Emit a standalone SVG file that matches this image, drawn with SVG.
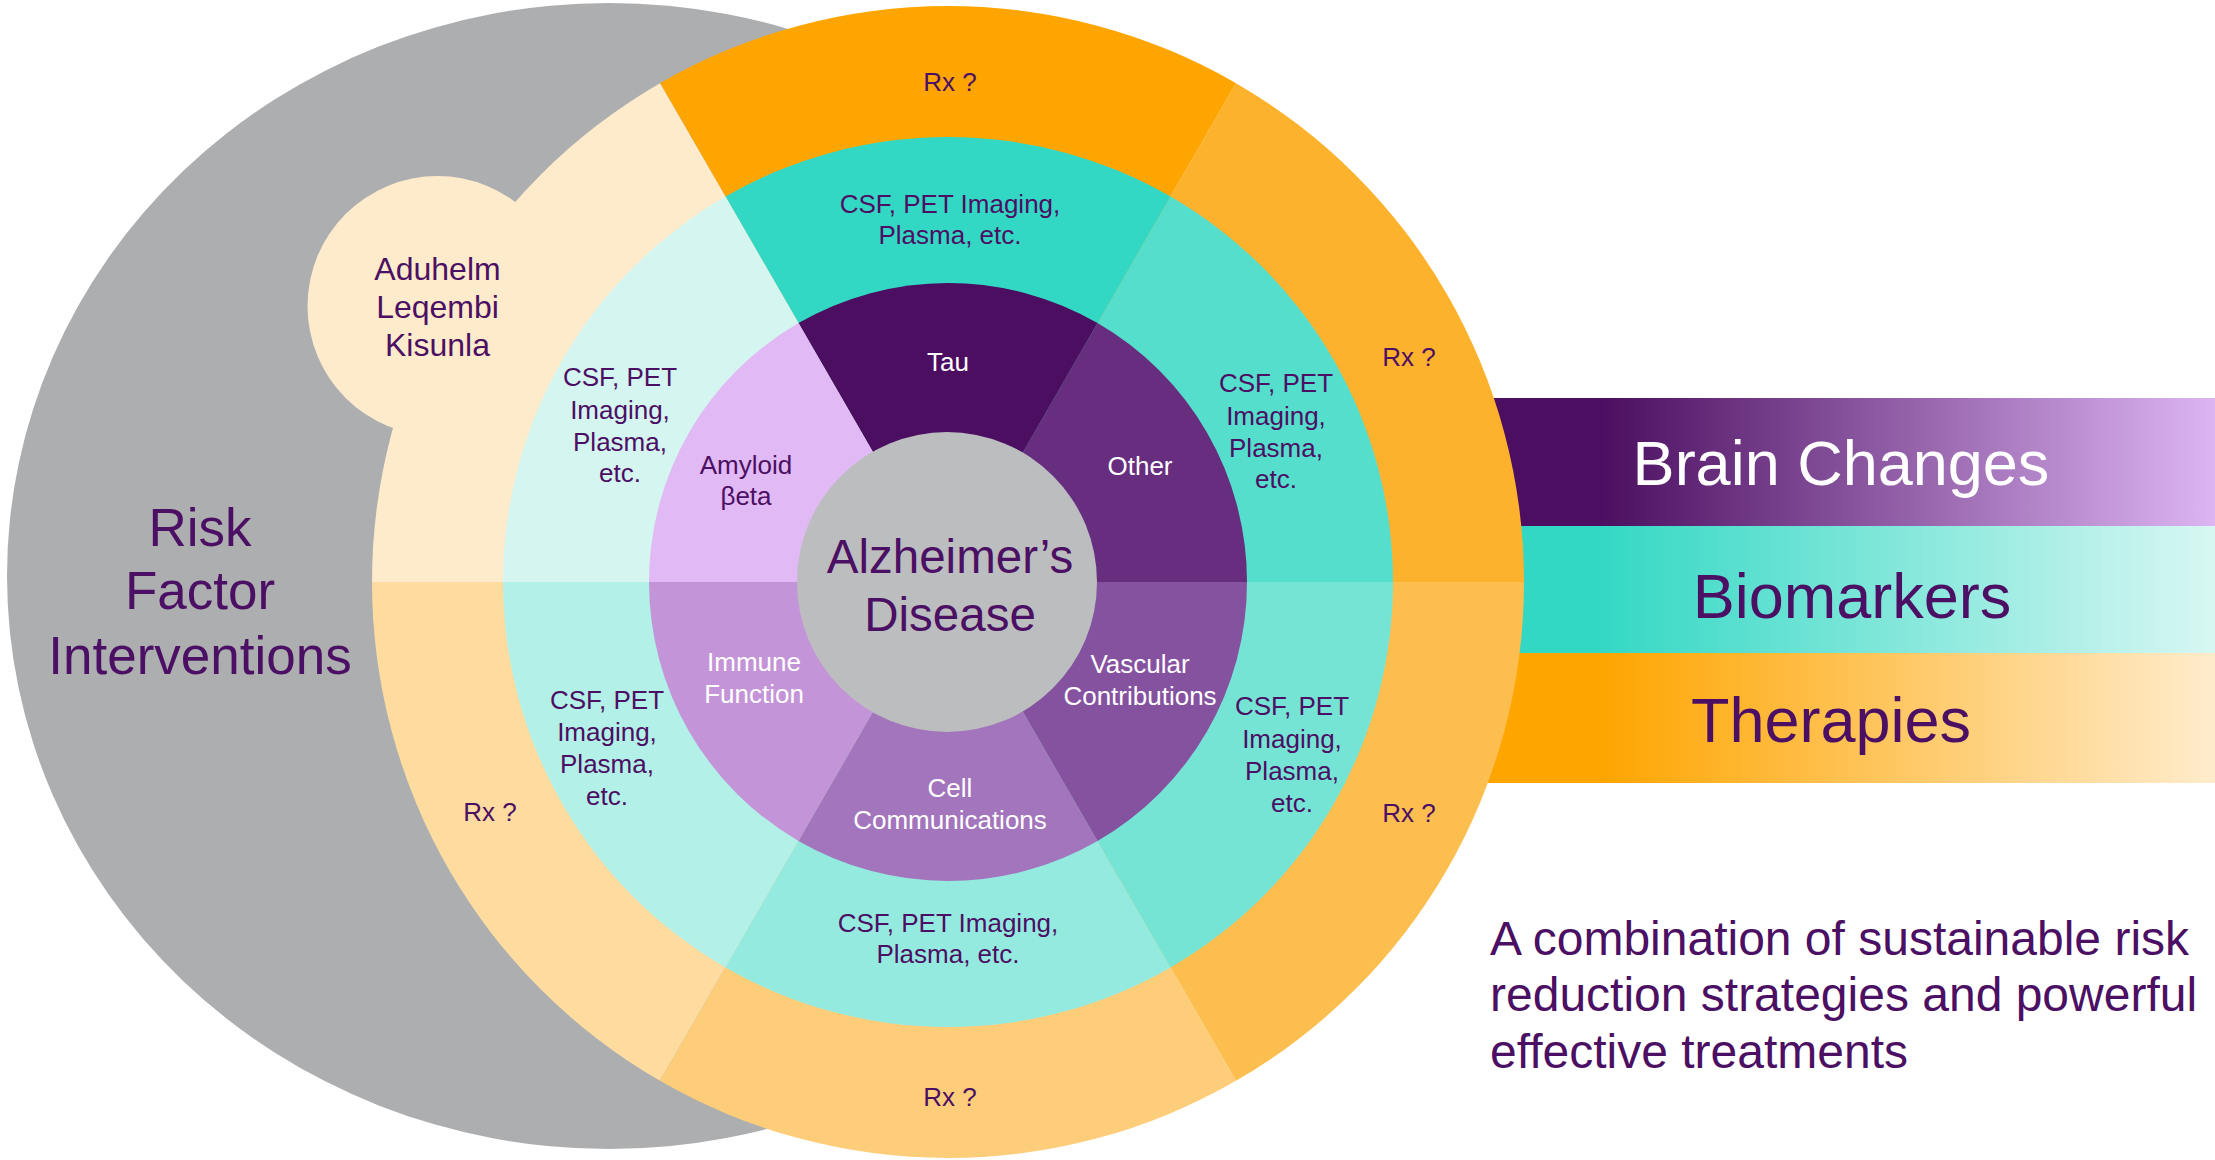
<svg xmlns="http://www.w3.org/2000/svg" width="2215" height="1160" viewBox="0 0 2215 1160">
<style>
text{font-family:"Liberation Sans",Arial,sans-serif;text-anchor:middle}
.s{font-size:26px}
.p{fill:#4B0F63}
.w{fill:#FFFFFF}
.big{font-size:53px}
.mid{font-size:47.5px}
.band{font-size:63px}
</style>
<defs>
<linearGradient id="gBrain" gradientUnits="userSpaceOnUse" x1="1600" y1="0" x2="2215" y2="0">
<stop offset="0" stop-color="#4B0E60"/><stop offset="1" stop-color="#DDB5F3"/>
</linearGradient>
<linearGradient id="gBio" gradientUnits="userSpaceOnUse" x1="1597" y1="0" x2="2215" y2="0">
<stop offset="0" stop-color="#33D8C4"/><stop offset="1" stop-color="#D8F7F3"/>
</linearGradient>
<linearGradient id="gTher" gradientUnits="userSpaceOnUse" x1="1600" y1="0" x2="2215" y2="0">
<stop offset="0" stop-color="#FEA500"/><stop offset="1" stop-color="#FFECCC"/>
</linearGradient>
</defs>
<rect width="2215" height="1160" fill="#FFFFFF"/>

<g id="bands">
<g id="band-brain"><rect x="1300" y="398" width="915" height="128" fill="url(#gBrain)"/></g>
<g id="band-bio"><rect x="1300" y="526" width="915" height="127" fill="url(#gBio)"/></g>
<g id="band-ther"><rect x="1300" y="653" width="915" height="130" fill="url(#gTher)"/></g>
</g>

<g id="risk-factor">
<ellipse cx="609" cy="576" rx="602" ry="573" fill="#ADAEB0"/>
</g>

<g id="approved-drugs">
<circle cx="437.5" cy="306" r="130" fill="#FEEBCB"/>
</g>

<g id="therapy-ring">
<path d="M948 582 L1524 582 A576 576 0 0 0 1236 83.17 Z" fill="#FDB22D"/>
<path d="M948 582 L1236 83.17 A576 576 0 0 0 660 83.17 Z" fill="#FEA502"/>
<path d="M948 582 L660 83.17 A576 576 0 0 0 372 582 Z" fill="#FEEBCB"/>
<path d="M948 582 L372 582 A576 576 0 0 0 660 1080.83 Z" fill="#FEDCA0"/>
<path d="M948 582 L660 1080.83 A576 576 0 0 0 1236 1080.83 Z" fill="#FDCD7A"/>
<path d="M948 582 L1236 1080.83 A576 576 0 0 0 1524 582 Z" fill="#FDBE50"/>
</g>

<g id="biomarker-ring">
<path d="M948 582 L1393 582 A445 445 0 0 0 1170.5 196.62 Z" fill="#55DECB"/>
<path d="M948 582 L1170.5 196.62 A445 445 0 0 0 725.5 196.62 Z" fill="#33D8C4"/>
<path d="M948 582 L725.5 196.62 A445 445 0 0 0 503 582 Z" fill="#D5F5F1"/>
<path d="M948 582 L503 582 A445 445 0 0 0 725.5 967.38 Z" fill="#B3F0E7"/>
<path d="M948 582 L725.5 967.38 A445 445 0 0 0 1170.5 967.38 Z" fill="#95EADF"/>
<path d="M948 582 L1170.5 967.38 A445 445 0 0 0 1393 582 Z" fill="#75E4D5"/>
</g>

<g id="brain-ring">
<path d="M948 582 L1247 582 A299 299 0 0 0 1097.5 323.06 Z" fill="#672E80"/>
<path d="M948 582 L1097.5 323.06 A299 299 0 0 0 798.5 323.06 Z" fill="#4B0E60"/>
<path d="M948 582 L798.5 323.06 A299 299 0 0 0 649 582 Z" fill="#E1B9F4"/>
<path d="M948 582 L649 582 A299 299 0 0 0 798.5 840.94 Z" fill="#C394D7"/>
<path d="M948 582 L798.5 840.94 A299 299 0 0 0 1097.5 840.94 Z" fill="#A375BC"/>
<path d="M948 582 L1097.5 840.94 A299 299 0 0 0 1247 582 Z" fill="#8552A0"/>
</g>

<g id="center">
<circle cx="947" cy="582" r="150" fill="#BCBDBF"/>
<text class="mid p" x="950" y="573">Alzheimer’s</text>
<text class="mid p" x="950" y="631">Disease</text>
</g>

<g id="labels-risk">
<text class="big p" x="200" y="546">Risk</text>
<text class="big p" x="200" y="609">Factor</text>
<text class="big p" x="200" y="674">Interventions</text>
</g>

<g id="labels-drugs">
<text class="p" style="font-size:32px" x="437.5" y="280">Aduhelm</text>
<text class="p" style="font-size:32px" x="437.5" y="318">Leqembi</text>
<text class="p" style="font-size:32px" x="437.5" y="356">Kisunla</text>
</g>

<g id="labels-therapy">
<text class="s p" x="950" y="91">Rx ?</text>
<text class="s p" x="1409" y="366">Rx ?</text>
<text class="s p" x="1409" y="822">Rx ?</text>
<text class="s p" x="950" y="1106">Rx ?</text>
<text class="s p" x="490" y="821">Rx ?</text>
</g>

<g id="labels-biomarker">
<text class="s p" x="950" y="212.5">CSF, PET Imaging,</text>
<text class="s p" x="950" y="244">Plasma, etc.</text>
<text class="s p" x="1276" y="392">CSF, PET</text>
<text class="s p" x="1276" y="424.5">Imaging,</text>
<text class="s p" x="1276" y="456.5">Plasma,</text>
<text class="s p" x="1276" y="487.5">etc.</text>
<text class="s p" x="1292" y="715">CSF, PET</text>
<text class="s p" x="1292" y="748">Imaging,</text>
<text class="s p" x="1292" y="780">Plasma,</text>
<text class="s p" x="1292" y="811.5">etc.</text>
<text class="s p" x="948" y="931.5">CSF, PET Imaging,</text>
<text class="s p" x="948" y="963">Plasma, etc.</text>
<text class="s p" x="607" y="709">CSF, PET</text>
<text class="s p" x="607" y="741">Imaging,</text>
<text class="s p" x="607" y="773">Plasma,</text>
<text class="s p" x="607" y="805">etc.</text>
<text class="s p" x="620" y="386">CSF, PET</text>
<text class="s p" x="620" y="418.5">Imaging,</text>
<text class="s p" x="620" y="450.5">Plasma,</text>
<text class="s p" x="620" y="482">etc.</text>
</g>

<g id="labels-brain">
<text class="s w" x="948" y="370.5">Tau</text>
<text class="s w" x="1140" y="475">Other</text>
<text class="s w" x="1140" y="673">Vascular</text>
<text class="s w" x="1140" y="705">Contributions</text>
<text class="s w" x="950" y="796.5">Cell</text>
<text class="s w" x="950" y="828.5">Communications</text>
<text class="s w" x="754" y="671">Immune</text>
<text class="s w" x="754" y="703">Function</text>
<text class="s p" x="746" y="473.5">Amyloid</text>
<text class="s p" x="746" y="504.5">βeta</text>
</g>

<g id="labels-bands">
<text class="band w" x="1841" y="485">Brain Changes</text>
<text class="band p" x="1852" y="618">Biomarkers</text>
<text class="band p" x="1831" y="742">Therapies</text>
</g>

<g id="summary">
<text class="p" style="font-size:48px;text-anchor:start" x="1490" y="955">A combination of sustainable risk</text>
<text class="p" style="font-size:48px;text-anchor:start" x="1490" y="1011">reduction strategies and powerful</text>
<text class="p" style="font-size:48px;text-anchor:start" x="1490" y="1068">effective treatments</text>
</g>
</svg>
